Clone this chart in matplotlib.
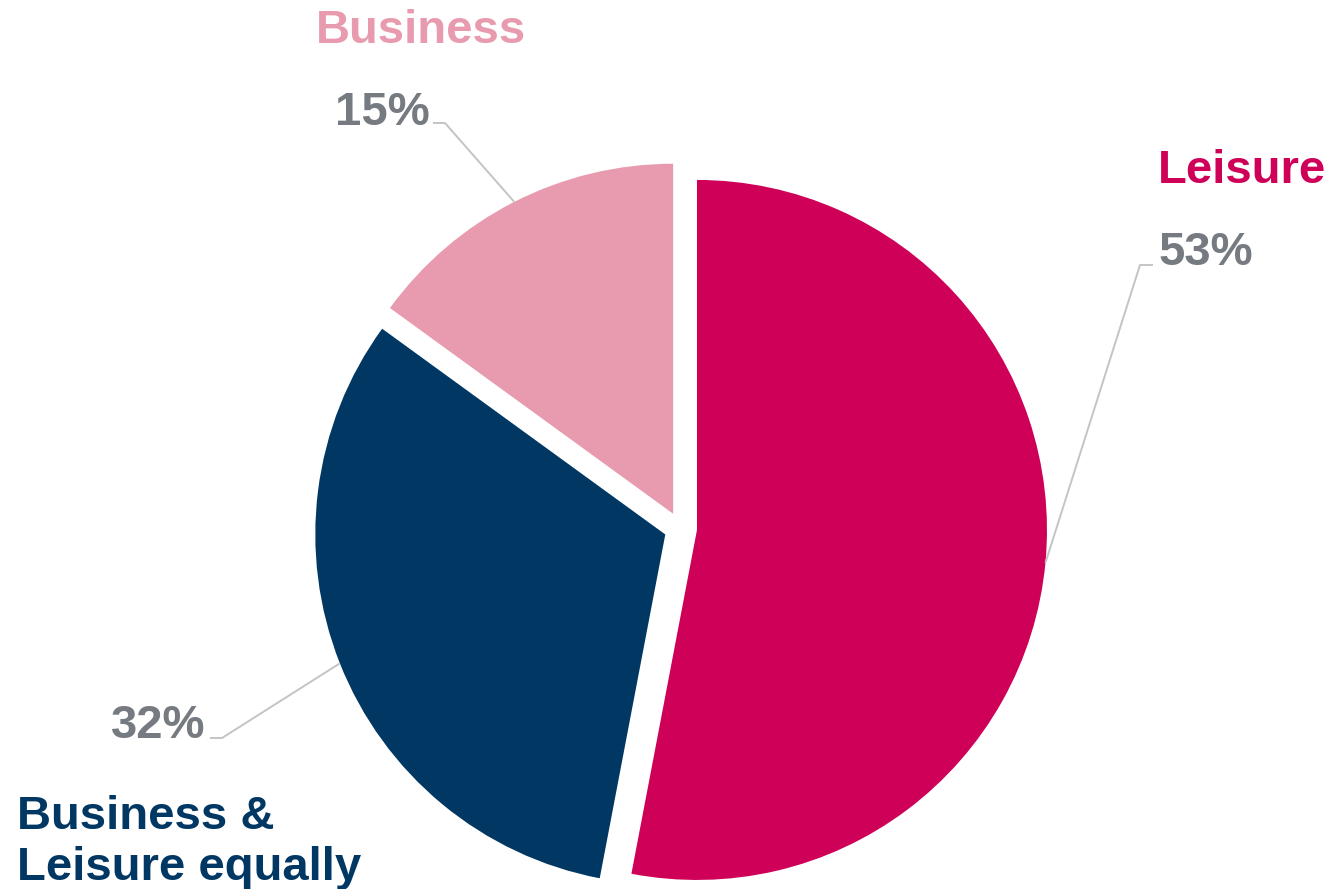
import numpy as np
import matplotlib as mpl
from matplotlib import pyplot as plt

mpl.rc('font', family='Liberation Sans', weight='bold')

# Share of trips by purpose
categories = ["Leisure", "Business &\nLeisure equally", "Business"]
shares = [53, 32, 15]
colors = ["#CE0058", "#003763", "#E89BAE"]
pct_color = "#767A81"
line_color = "#C4C4C4"

W, H = 1332, 889
# pie centre and radius in pixels
cx, cy, R = 680.6, 528.4, 350.0


def px(x, y):
    # pixel position (origin top-left) -> data units of the pie
    return (x - cx) / R, (cy - y) / R


fig = plt.figure(figsize=(W / 100, H / 100), dpi=100)
ax = fig.add_axes([0, 0, 1, 1])
wedges, _ = ax.pie(shares, colors=colors, startangle=90, counterclock=False,
                   radius=1.0, explode=[0.047] * 3,
                   wedgeprops=dict(linewidth=0))
x0, y0 = px(0, H)
x1, y1 = px(W, 0)
ax.set_xlim(x0, x1)
ax.set_ylim(y0, y1)
ax.set_aspect('equal')
ax.axis('off')

# label layout: elbow of leader, end of leader, percent text, name text (last baseline)
layout = [
    ((1140, 265), (1153, 265), (1159, 265), (1158, 183)),
    ((222, 738), (210, 738), (111, 738), (17, 880)),
    ((445, 123), (433, 123), (335, 125), (316, 43)),
]

for w, share, name, col, (elbow, end, ptxt, ntxt) in zip(wedges, shares, categories, colors, layout):
    ang = np.deg2rad((w.theta1 + w.theta2) / 2)
    sx = w.center[0] + w.r * np.cos(ang)
    sy = w.center[1] + w.r * np.sin(ang)
    ex, ey = px(*elbow)
    tx, ty = px(*end)
    ax.plot([sx, ex, tx], [sy, ey, ty], color=line_color, lw=1.4, solid_capstyle='butt')
    ax.text(*px(*ptxt), f"{share}%", color=pct_color, fontsize=34,
            ha='left', va='baseline')
    ax.text(*px(*ntxt), name, color=col, fontsize=34, ha='left', va='baseline',
            linespacing=1.22)

fig.savefig("out.png", dpi=100)
